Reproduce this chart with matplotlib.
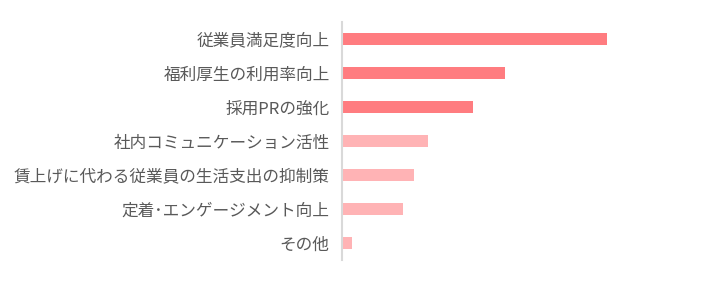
import matplotlib

matplotlib.use("Agg")
import matplotlib.pyplot as plt  # noqa: E402

plt.rcParams["font.family"] = ["Noto Sans CJK JP", "DejaVu Sans"]

categories = [
    "従業員満足度向上",
    "福利厚生の利用率向上",
    "採用PRの強化",
    "社内コミュニケーション活性",
    "賃上げに代わる従業員の生活支出の抑制策",
    "定着･エンゲージメント向上",
    "その他",
]
values = [26.4, 16.2, 13.0, 8.5, 7.1, 6.0, 0.9]
colors = ["#FF7C80", "#FF7C80", "#FF7C80",
          "#FFB3B5", "#FFB3B5", "#FFB3B5", "#FFB3B5"]

fig = plt.figure(figsize=(7.07, 2.83), dpi=100)
ax = fig.add_axes([342 / 707, 23 / 283, 338 / 707, 238 / 283])

pos = list(range(len(categories)))
ax.barh(pos, values, height=0.35, color=colors, left=0.1)
ax.set_yticks(pos)
ax.set_yticklabels(categories, fontsize=12, color="#595959")
ax.tick_params(axis="y", length=0, pad=9)
ax.set_ylim(len(categories) - 0.5, -0.5)
ax.set_xlim(0, 33.8)
ax.set_xticks([])

for s in ["top", "right", "bottom"]:
    ax.spines[s].set_visible(False)
ax.spines["left"].set_color("#D9D9D9")
ax.spines["left"].set_linewidth(1.5)

fig.savefig("out.png", dpi=100)
plt.close(fig)
